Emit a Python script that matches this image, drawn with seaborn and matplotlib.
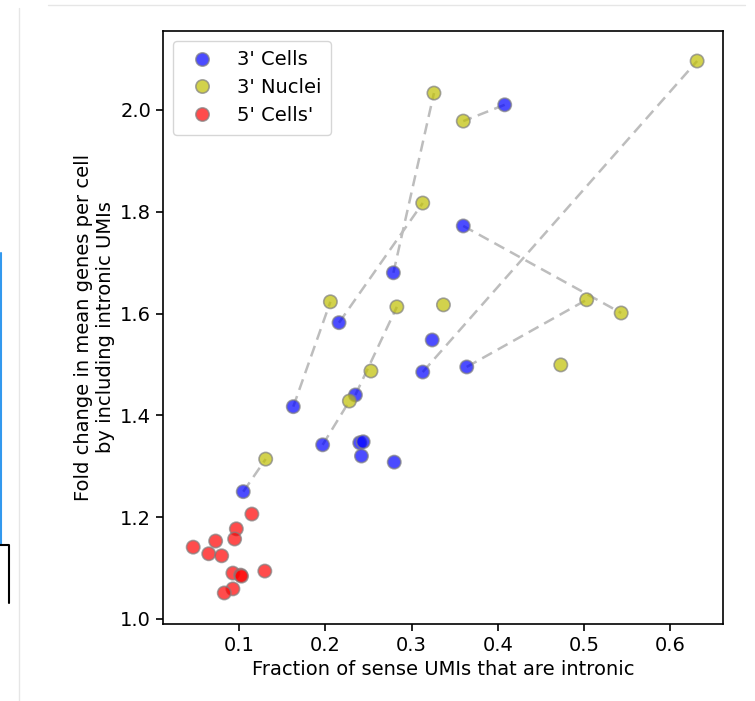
import matplotlib
matplotlib.use("Agg")
import matplotlib.pyplot as plt
from matplotlib.lines import Line2D
import numpy as np
import pandas as pd
import seaborn as sns

# Fraction of sense UMIs that are intronic (x) and fold change in genes per cell (y)
cells3_x = [0.408, 0.360, 0.279, 0.216, 0.163, 0.324, 0.313, 0.364, 0.235, 0.197,
            0.240, 0.244, 0.242, 0.280, 0.105]
cells3_y = [2.010, 1.772, 1.680, 1.582, 1.417, 1.548, 1.485, 1.495, 1.440, 1.342,
            1.346, 1.348, 1.320, 1.308, 1.250]

nuclei3_x = [0.631, 0.326, 0.360, 0.313, 0.206, 0.283, 0.337, 0.503, 0.543, 0.473,
             0.253, 0.228, 0.131]
nuclei3_y = [2.096, 2.033, 1.978, 1.817, 1.623, 1.613, 1.617, 1.627, 1.601, 1.499,
             1.487, 1.428, 1.314]

cells5_x = [0.115, 0.097, 0.095, 0.073, 0.047, 0.065, 0.080, 0.093, 0.102, 0.103,
            0.130, 0.093, 0.083]
cells5_y = [1.206, 1.177, 1.157, 1.153, 1.141, 1.128, 1.124, 1.090, 1.086, 1.084,
            1.094, 1.059, 1.051]

# Matched samples: (index in 3' Cells, index in 3' Nuclei)
pairs_cells_idx = [0, 1, 2, 3, 4, 6, 7, 8, 9, 14]
pairs_nuclei_idx = [2, 8, 1, 3, 4, 0, 7, 5, 11, 12]

labels = ["3' Cells", "3' Nuclei", "5' Cells'"]
colors = ["blue", "y", "red"]

df = pd.DataFrame({
    "x": cells3_x + nuclei3_x + cells5_x,
    "y": cells3_y + nuclei3_y + cells5_y,
    "group": [labels[0]] * len(cells3_x) + [labels[1]] * len(nuclei3_x)
             + [labels[2]] * len(cells5_x),
})

sns.set_style("ticks")
plt.rcParams["font.family"] = ["DejaVu Sans"]
plt.rcParams["font.size"] = 14
plt.rcParams["text.color"] = "black"
plt.rcParams["axes.labelcolor"] = "black"
plt.rcParams["xtick.color"] = "black"
plt.rcParams["ytick.color"] = "black"

fig = plt.figure(figsize=(7.55, 7.01), dpi=100)
ax = fig.add_axes([163 / 755, 1 - 624 / 701, (723 - 163) / 755, (624 - 31) / 701])

# dashed connectors between matched cell / nucleus samples
for ci, ni in zip(pairs_cells_idx, pairs_nuclei_idx):
    ax.plot([cells3_x[ci], nuclei3_x[ni]], [cells3_y[ci], nuclei3_y[ni]],
            ls=(0, (4.5, 2.6)), color="#bdbdbd", lw=1.8, zorder=1)

sns.scatterplot(data=df, x="x", y="y", hue="group", hue_order=labels,
                palette=dict(zip(labels, colors)), s=92, alpha=0.7,
                edgecolor="gray", linewidth=1.2, ax=ax, zorder=3)

ax.set_xlim(0.012, 0.661)
ax.set_ylim(0.990, 2.155)
ax.set_xlabel("Fraction of sense UMIs that are intronic", fontsize=14)
ax.set_ylabel("Fold change in mean genes per cell\nby including intronic UMIs", fontsize=14)
ax.set_xticks([0.1, 0.2, 0.3, 0.4, 0.5, 0.6])
ax.set_yticks([1.0, 1.2, 1.4, 1.6, 1.8, 2.0])
ax.tick_params(labelsize=14, length=5, width=1.2, color="black")
for sp in ax.spines.values():
    sp.set_color("black")
    sp.set_linewidth(1.2)

leg = ax.legend(loc="upper left", fontsize=14, frameon=True, title=None,
                markerscale=1.0, borderpad=0.5, labelspacing=0.45)
leg.get_frame().set_edgecolor("#cccccc")

# surrounding panel rules
fig.add_artist(Line2D([19 / 755, 19 / 755], [0, 1 - 8 / 701], color="#e6e6e6", lw=1))
fig.add_artist(Line2D([48 / 755, 745 / 755], [1 - 5 / 701, 1 - 5 / 701], color="#e6e6e6", lw=1))
fig.add_artist(Line2D([1 / 755, 1 / 755], [1 - 253 / 701, 1 - 545 / 701], color="#3399ee", lw=1.5))
fig.add_artist(Line2D([0, 9 / 755, 9 / 755], [1 - 545 / 701, 1 - 545 / 701, 1 - 603 / 701],
                      color="black", lw=1.5))

fig.savefig("out.png", dpi=100)
